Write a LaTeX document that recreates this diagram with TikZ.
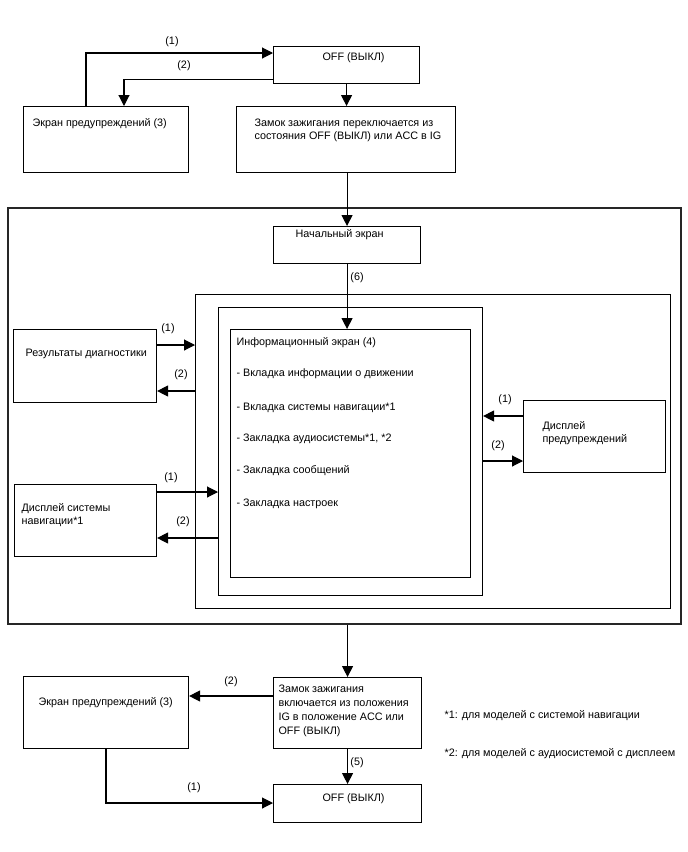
\documentclass[tikz,border=0pt]{standalone}
\usepackage{fontspec}
\setmainfont{Liberation Sans}
\usetikzlibrary{arrows.meta}
\begin{document}
\begin{tikzpicture}[x=1pt, y=-1pt, font=\fontsize{10.8}{13}\selectfont, line width=1.1pt, >={Triangle[length=11pt,width=11pt]},
	box/.style={draw, anchor=north west, inner sep=0pt},
	txt/.style={anchor=west, inner sep=0pt, align=left},
	mtxt/.style={anchor=north west, inner sep=0pt, align=left},
	lbl/.style={inner sep=0pt}]
	\useasboundingbox (0,0) rectangle (688,852);
	\node[box, minimum width=146pt, minimum height=37pt] (off) at (273,46) {};
	\node[box, minimum width=165pt, minimum height=66pt] (warn) at (23,106) {};
	\node[box, minimum width=219pt, minimum height=66pt] (ign) at (236,106) {};
	\node[box, line width=1.6pt, draw=black!85, minimum width=673pt, minimum height=416pt] (outer) at (7,207) {};
	\node[box, minimum width=147pt, minimum height=37pt] (home) at (273,226) {};
	\node[box, minimum width=475pt, minimum height=314pt] (frameA) at (195,294) {};
	\node[box, minimum width=264pt, minimum height=288pt] (frameB) at (218,307) {};
	\node[box, minimum width=240pt, minimum height=248pt] (info) at (230,329) {};
	\node[box, minimum width=143pt, minimum height=73pt] (diag) at (13,329) {};
	\node[box, minimum width=142pt, minimum height=72pt] (nav) at (14,484) {};
	\node[box, minimum width=142pt, minimum height=72pt] (wdisp) at (523,400) {};
	\node[box, minimum width=165pt, minimum height=72pt] (warnb) at (23,676) {};
	\node[box, minimum width=148pt, minimum height=71pt] (ignb) at (273,677) {};
	\node[box, minimum width=148pt, minimum height=38pt] (offb) at (273,784) {};

	\node[txt] (offT) at (322,58) {OFF (ВЫКЛ)};
	\node[txt] (warnT) at (32,124) {Экран предупреждений (3)};
	\node[mtxt] (ignT) at (254,118) {Замок зажигания переключается из\\состояния OFF (ВЫКЛ) или ACC в IG};
	\node[txt] (homeT) at (295,235) {Начальный экран};
	\node[txt] (diagT) at (25,354) {Результаты диагностики};
	\node[txt] (infoT) at (236,343) {Информационный экран (4)};
	\node[txt] (infoA) at (236,374) {- Вкладка информации о движении};
	\node[txt] (infoB) at (236,408) {- Вкладка системы навигации*1};
	\node[txt] (infoC) at (236,439) {- Закладка аудиосистемы*1, *2};
	\node[txt] (infoD) at (236,471) {- Закладка сообщений};
	\node[txt] (infoE) at (236,504) {- Закладка настроек};
	\node[mtxt, font=\fontsize{10.8}{12.5}\selectfont] (wdispT) at (542,421) {Дисплей\\предупреждений};
	\node[mtxt, font=\fontsize{10.8}{12.5}\selectfont] (navT) at (21,503) {Дисплей системы\\навигации*1};
	\node[txt] (warnbT) at (38,703) {Экран предупреждений (3)};
	\node[mtxt, font=\fontsize{10.8}{14}\selectfont] (ignbT) at (278,684) {Замок зажигания\\включается из положения\\IG в положение ACC или\\OFF (ВЫКЛ)};
	\node[txt] (offbT) at (322,799) {OFF (ВЫКЛ)};
	\node[txt] (noteA) at (444,716) {*1: для моделей с системой навигации};
	\node[txt] (noteB) at (444,754) {*2: для моделей с аудиосистемой с дисплеем};

	\draw[->] ([xshift=63pt]warn.north west) |- ([yshift=-7pt]off.north west);
	\draw[->] ([yshift=5pt]off.south west) -| ([xshift=101pt]warn.north west);
	\draw[->] (off.south) -- (off.south |- ign.north);
	\draw[->] (home.north |- ign.south) -- (home.north);
	\draw[->] (home.south) -- (home.south |- info.north);
	\draw[->] ([yshift=-16pt]diag.north east) coordinate (d1) -- (d1 -| frameA.west);
	\draw[->] ([yshift=-62pt]diag.north east) coordinate (d2) (d2 -| frameA.west) -- (d2);
	\draw[->] ([yshift=-8pt]nav.north east) coordinate (n1) -- (n1 -| frameB.west);
	\draw[->] ([yshift=-54pt]nav.north east) coordinate (n2) (n2 -| frameB.west) -- (n2);
	\draw[->] ([yshift=-16pt]wdisp.north west) coordinate (w1) -- (w1 -| frameB.east);
	\draw[->] ([yshift=-61pt]wdisp.north west) coordinate (w2) (w2 -| frameB.east) -- (w2);
	\draw[->] (ignb.north |- outer.south) -- (ignb.north);
	\draw[->] ([yshift=-19pt]ignb.north west) coordinate (b2) -- (b2 -| warnb.east);
	\draw[->] (ignb.south) -- (offb.north);
	\draw[->] ([xshift=83pt]warnb.south west) |- ([yshift=-19pt]offb.north west);

	\node[lbl] (l1) at (172,42) {(1)};
	\node[lbl] (l2) at (184,66) {(2)};
	\node[lbl] (l6) at (357,278) {(6)};
	\node[lbl] (ld1) at (168,329) {(1)};
	\node[lbl] (ld2) at (181,375) {(2)};
	\node[lbl] (ln1) at (171,478) {(1)};
	\node[lbl] (ln2) at (183,522) {(2)};
	\node[lbl] (lw1) at (505,400) {(1)};
	\node[lbl] (lw2) at (498,446) {(2)};
	\node[lbl] (lb2) at (231,682) {(2)};
	\node[lbl] (l5) at (357,763) {(5)};
	\node[lbl] (lb1) at (194,788) {(1)};
\end{tikzpicture}
\end{document}
